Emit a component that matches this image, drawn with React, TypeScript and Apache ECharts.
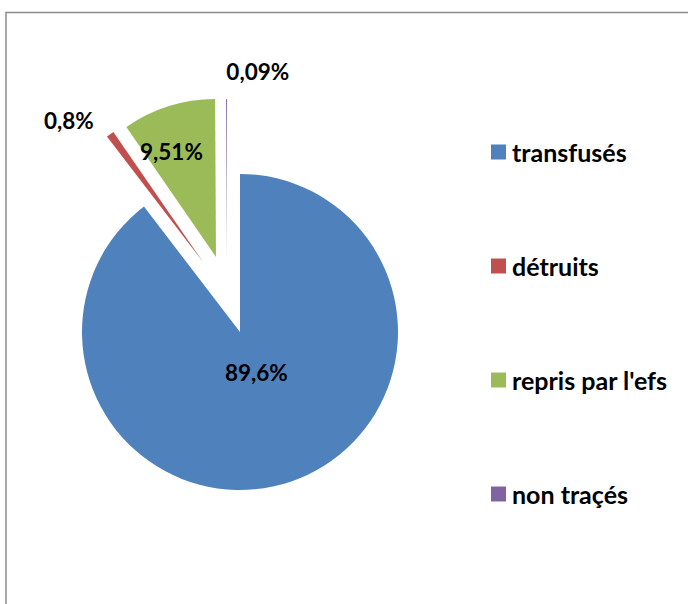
import React, { useEffect, useRef } from "react";
import * as echarts from "echarts";

const categories = ["transfusés", "détruits", "repris par l'efs", "non traçés"];
const values = [89.6, 0.8, 9.51, 0.09];
const colors = ["#4F81BD", "#C0504D", "#9BBB59", "#8064A2"];

// layout: pie centre, radius, per-slice explosion offset and label nudges
const CX = 240;
const CY = 332;
const R = 158;
const explode = [[0, 0], [-37, -70], [-24, -75], [-13, -75]];
const labelShift = [[-10, -37], [-86, -75], [-20, -27], [31, -104]];

const fmt = (v: number) => `${String(v).replace(".", ",")}%`;

export default function App() {
  const ref = useRef<HTMLDivElement>(null);
  useEffect(() => {
    if (!ref.current) return;
    const chart = echarts.init(ref.current, null, { renderer: "svg" });
    const series = categories.map((_, si) => ({
      type: "pie",
      name: "s" + si,
      center: [CX + explode[si][0], CY + explode[si][1]],
      radius: R,
      startAngle: 90,
      clockwise: true,
      avoidLabelOverlap: false,
      silent: true,
      emphasis: { disabled: true },
      labelLine: { show: false },
      label: {
        show: true,
        position: "inside",
        formatter: (p: any) => fmt(p.value),
        fontFamily: "Lato",
        fontWeight: "bold",
        fontSize: 22.5,
        color: "#000",
      },
      labelLayout: () => ({ dx: labelShift[si][0], dy: labelShift[si][1] }),
      data: categories.map((name, i) => ({
        name,
        value: values[i],
        itemStyle: { color: i === si ? colors[i] : "transparent", borderWidth: 0 },
        label: { show: i === si },
      })),
    }));
    chart.setOption({
      animation: false,
      backgroundColor: "#fff",
      graphic: [
        {
          type: "rect",
          silent: true,
          z: -10,
          shape: { x: 6, y: 12.5, width: 1000, height: 1000 },
          style: { fill: "none", stroke: "#8a8a8a", lineWidth: 1.5 },
        },
      ],
      legend: {
        orient: "vertical",
        left: 491,
        top: 139.5,
        padding: 0,
        itemWidth: 15,
        itemHeight: 15,
        itemGap: 89,
        icon: "rect",
        selectedMode: false,
        textStyle: {
          fontFamily: "Lato",
          fontWeight: "bold",
          fontSize: 25,
          lineHeight: 25,
          color: "#000",
          padding: [0, 0, 0, 1],
        },
        data: categories.map((name, i) => ({ name, itemStyle: { color: colors[i] } })),
      },
      series,
    });
    return () => chart.dispose();
  }, []);
  return (
    <div
      ref={ref}
      style={{ position: "fixed", left: 0, top: 0, width: 688, height: 604 }}
    />
  );
}
